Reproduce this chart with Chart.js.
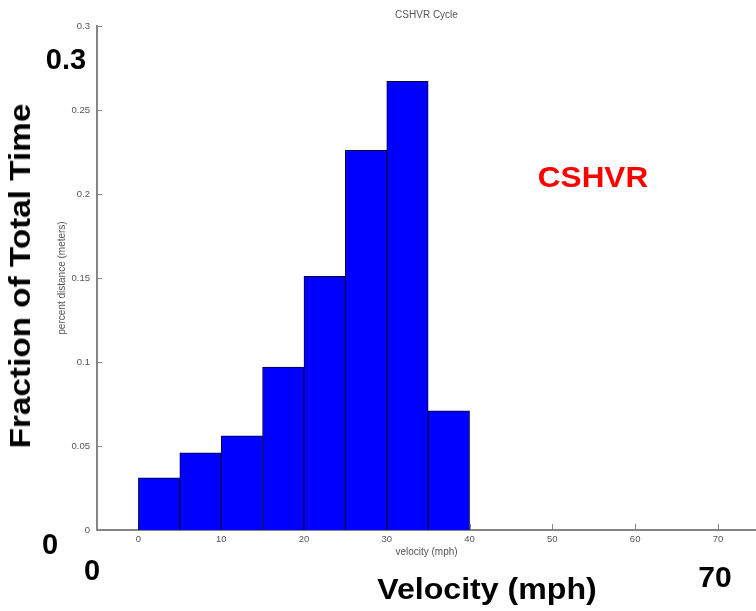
<!DOCTYPE html>
<html>
<head>
<meta charset="utf-8">
<script src="https://cdn.jsdelivr.net/npm/chart.js@4.4.0/dist/chart.umd.min.js"></script>
<style>
  html, body { margin:0; padding:0; background:#fff; overflow:hidden; }
  #wrap { position:relative; width:756px; height:611px; }
  #chart { position:absolute; left:0; top:0; }
  .note { position:absolute; font-family:"Liberation Sans", Arial, sans-serif; font-weight:bold;
          line-height:1; white-space:nowrap; transform:translate(-50%,-50%); color:#000; }
</style>
</head>
<body>
<div id="wrap">
  <canvas id="chart" width="756" height="611"></canvas>
  <div class="note" style="left:66px; top:59px; font-size:29px;">0.3</div>
  <div class="note" style="left:20px; top:276px; font-size:30px; transform:translate(-50%,-50%) rotate(-90deg) scaleX(1.11);">Fraction of Total Time</div>
  <div class="note" style="left:593px; top:177px; font-size:30px; color:#ff0000; transform:translate(-50%,-50%) scaleX(1.05);">CSHVR</div>
  <div class="note" style="left:50px; top:544px; font-size:29px;">0</div>
  <div class="note" style="left:92px; top:570px; font-size:29px;">0</div>
  <div class="note" style="left:487px; top:589px; font-size:30px; transform:translate(-50%,-50%) scaleX(1.07);">Velocity (mph)</div>
  <div class="note" style="left:715px; top:577px; font-size:30px;">70</div>
</div>
<script>
// histogram of speed, 5 mph bins
const binCenters = [2.5, 7.5, 12.5, 17.5, 22.5, 27.5, 32.5, 37.5];
const fractions  = [0.031, 0.046, 0.056, 0.097, 0.151, 0.226, 0.267, 0.071];
const xTicks = [0, 10, 20, 30, 40, 50, 60, 70];
const yTicks = [0, 0.05, 0.1, 0.15, 0.2, 0.25, 0.3];

const FONT = '"Liberation Sans", Arial, Helvetica, sans-serif';
const AXIS_GREY = '#858585';
const TEXT_GREY = '#555';

// matlab style ticks drawn inside the axes
const innerTicks = {
  id: 'innerTicks',
  beforeDatasetsDraw(chart) {
    const {ctx, scales: {x, y}} = chart;
    ctx.save();
    ctx.strokeStyle = AXIS_GREY;
    ctx.lineWidth = 1;
    ctx.beginPath();
    yTicks.forEach(v => {
      const py = Math.round(y.getPixelForValue(v)) + 0.5;
      ctx.moveTo(x.left, py);
      ctx.lineTo(x.left + 5, py);
    });
    xTicks.forEach(v => {
      const px = Math.round(x.getPixelForValue(v)) + 0.5;
      ctx.moveTo(px, y.bottom);
      ctx.lineTo(px, y.bottom - 6);
    });
    ctx.stroke();
    ctx.restore();
  }
};

new Chart(document.getElementById('chart'), {
  type: 'bar',
  data: {
    datasets: [{
      data: binCenters.map((c, i) => ({x: c, y: fractions[i]})),
      backgroundColor: '#0000ff',
      borderColor: '#00003a',
      borderWidth: 1,
      barPercentage: 1,
      categoryPercentage: 1
    }]
  },
  options: {
    responsive: false,
    animation: false,
    layout: { padding: 0 },
    plugins: {
      legend: { display: false },
      tooltip: { enabled: false }
    },
    scales: {
      x: {
        type: 'linear',
        offset: false,
        min: -5,
        max: 74.6,
        afterBuildTicks: s => { s.ticks = xTicks.map(v => ({value: v})); },
        afterFit: s => { s.height = 81; },
        grid: { display: false, drawTicks: false, offset: false },
        border: { display: true, color: AXIS_GREY, width: 2 },
        ticks: { color: TEXT_GREY, font: { family: FONT, size: 9.5 }, padding: 4, maxRotation: 0 },
        title: {
          display: true,
          text: 'velocity (mph)',
          color: TEXT_GREY,
          font: { family: FONT, size: 10 },
          padding: { top: 0, bottom: 53 }
        }
      },
      // empty top axis, only carries the plot title centred over the axes
      top: {
        type: 'linear',
        position: 'top',
        min: 0,
        max: 1,
        grid: { display: false, drawTicks: false },
        border: { display: false },
        ticks: { display: false },
        afterFit: s => { s.height = 26; },
        title: {
          display: true,
          text: 'CSHVR Cycle',
          color: TEXT_GREY,
          font: { family: FONT, size: 10 },
          padding: { top: 9, bottom: 5 }
        }
      },
      y: {
        min: 0,
        max: 0.3,
        afterBuildTicks: s => { s.ticks = yTicks.map(v => ({value: v})); },
        afterFit: s => { s.width = 97; },
        grid: { display: false, drawTicks: false },
        border: { display: true, color: AXIS_GREY, width: 2 },
        ticks: {
          color: TEXT_GREY,
          font: { family: FONT, size: 9.5 },
          padding: 7,
          callback: v => String(+v.toFixed(2))
        },
        title: {
          display: true,
          text: 'percent distance (meters)',
          color: TEXT_GREY,
          font: { family: FONT, size: 10 },
          padding: { top: 56, bottom: 0 }
        }
      }
    }
  },
  plugins: [innerTicks]
});
</script>
</body>
</html>
